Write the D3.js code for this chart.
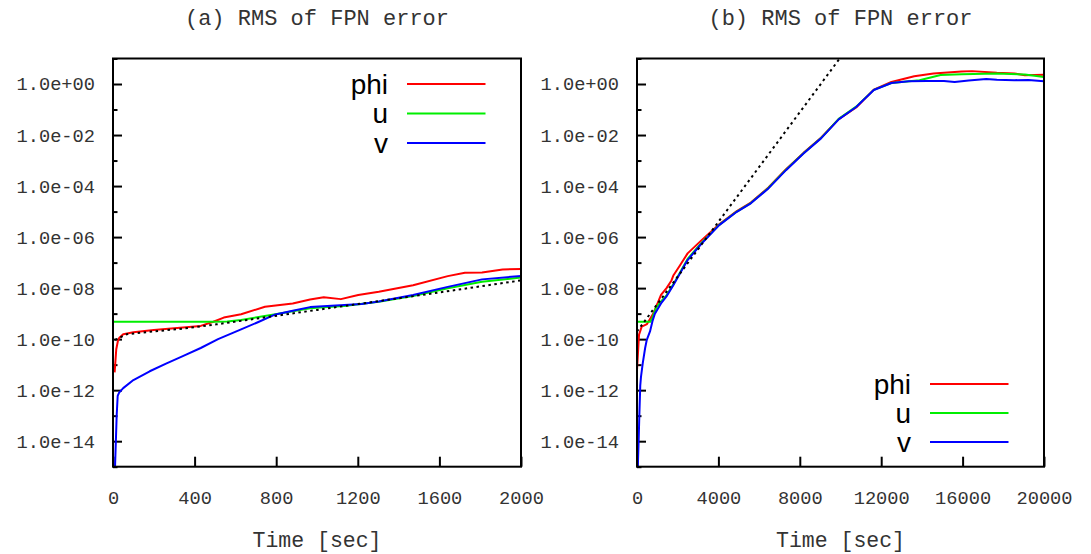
<!DOCTYPE html>
<html><head><meta charset="utf-8">
<script src="https://cdn.jsdelivr.net/npm/d3@7"></script>
<style>body{margin:0;background:#fff}svg{display:block}</style>
</head><body>
<svg id="c" width="1091" height="554"></svg>
<script>
// ---------- data ----------
const seriesNames = ["phi", "u", "v"];
const seriesColors = ["#ff0000", "#00ee00", "#0000ff"];
const yTickValues = [1e0, 1e-2, 1e-4, 1e-6, 1e-8, 1e-10, 1e-12, 1e-14];
const yTickLabels = ["1.0e+00","1.0e-02","1.0e-04","1.0e-06","1.0e-08","1.0e-10","1.0e-12","1.0e-14"];
const yMinorValues = [1e1, 1e-1, 1e-3, 1e-5, 1e-7, 1e-9, 1e-11, 1e-13, 1e-15];
const xTicksA = [0, 400, 800, 1200, 1600, 2000];
const xTicksB = [0, 4000, 8000, 12000, 16000, 20000];
const titles = ["(a) RMS of FPN error", "(b) RMS of FPN error"];
const xLabel = "Time [sec]";

// panel (a): [time, value]
const aPhi = [[8,5e-12],[16,4e-11],[24,8.5e-11],[30,1.1e-10],[50,1.55e-10],[100,1.86e-10],[200,2.3e-10],[300,2.7e-10],[430,3.3e-10],[492,4.8e-10],[543,7.0e-10],[628,9.5e-10],[745,1.86e-9],[881,2.5e-9],[966,3.6e-9],[1033,4.4e-9],[1117,3.7e-9],[1202,5.4e-9],[1303,7.2e-9],[1471,1.3e-8],[1641,2.95e-8],[1725,4.0e-8],[1809,4.1e-8],[1910,5.4e-8],[2000,5.6e-8]];
const aU = [[0,4.8e-10],[490,4.8e-10],[560,4.9e-10],[628,5.6e-10],[796,9.5e-10],[966,1.62e-9],[1050,1.8e-9],[1134,2.0e-9],[1303,2.95e-9],[1471,4.9e-9],[1641,9.8e-9],[1809,1.78e-8],[2000,2.6e-8]];
const aV = [[10,1e-15],[14,1e-14],[18,1e-13],[23,6e-13],[30,8e-13],[50,1.2e-12],[100,2.5e-12],[180,5.5e-12],[260,1.1e-11],[345,2.2e-11],[430,4.5e-11],[515,1.0e-10],[628,2.4e-10],[710,4.6e-10],[796,9.3e-10],[881,1.3e-9],[966,1.8e-9],[1050,2.0e-9],[1134,2.2e-9],[1219,2.4e-9],[1303,3.0e-9],[1387,4.0e-9],[1471,5.4e-9],[1641,1.12e-8],[1809,2.2e-8],[2000,3.0e-8]];
const aFit = [[10,9.3e-11],[67,1.55e-10],[181,1.95e-10],[345,2.6e-10],[508,3.8e-10],[1000,1.4e-9],[1500,5.2e-9],[2000,2.0e-8]];

// panel (b)
const bPhi = [[0,6e-12],[100,1.5e-10],[231,3.1e-10],[491,3.9e-10],[800,1.0e-9],[968,2.1e-9],[1180,5.4e-9],[1450,1.0e-8],[1695,2.0e-8],[1794,3.2e-8],[2100,7.5e-8],[2487,2.3e-7],[3176,7.6e-7],[4040,3.2e-6],[4904,1.05e-5],[5592,2.25e-5],[6457,8.8e-5],[7322,4.6e-4],[8182,2.0e-3],[9042,7.8e-3],[9912,4.2e-2],[10771,1.2e-1],[11636,6.0e-1],[12501,1.2],[13623,2.0],[14570,2.6],[15950,3.1],[16471,3.2],[17681,2.75],[18542,2.6],[19060,2.2],[20000,2.3]];
const bU = [[0,4.8e-10],[660,4.8e-10],[760,7e-10],[919,1.6e-9],[1180,3.0e-9],[1440,5.0e-9],[1784,1.4e-8],[2487,1.4e-7],[3176,6.0e-7],[4040,3.0e-6],[4904,1.0e-5],[5592,2.15e-5],[6457,8.4e-5],[7322,4.4e-4],[8182,1.95e-3],[9042,7.6e-3],[9912,4.3e-2],[10771,1.3e-1],[11636,5.9e-1],[12501,1.1],[13882,1.41],[14919,2.24],[15950,2.4],[17681,2.57],[19060,2.34],[20000,1.9]];
const bV = [[40,1e-15],[80,1e-14],[113,9e-14],[160,1.5e-12],[197,3.4e-12],[280,1.1e-11],[400,4.5e-11],[477,9.1e-11],[639,2.0e-10],[760,5.0e-10],[880,1.0e-9],[1180,2.5e-9],[1440,4.6e-9],[1784,1.3e-8],[2487,1.26e-7],[3176,5.6e-7],[4040,2.95e-6],[4904,9.8e-6],[5592,2.1e-5],[6457,8.1e-5],[7322,4.2e-4],[8182,1.9e-3],[9042,7.4e-3],[9912,4.1e-2],[10771,1.26e-1],[11636,5.8e-1],[12501,1.1],[13361,1.29],[14226,1.32],[15086,1.32],[15607,1.2],[16300,1.38],[17160,1.58],[17681,1.48],[18542,1.41],[19234,1.45],[20000,1.29]];
const bFit = [[0,2.0e-10],[10000,1.1e1]];

// ---------- layout ----------
const svg = d3.select("#c");
const panels = [
  {x0:113, x1:521, xmax:2000, ticks:xTicksA, series:[aPhi,aU,aV], fit:aFit, title:titles[0], legendY:[84,113.5,143]},
  {x0:637, x1:1044, xmax:20000, ticks:xTicksB, series:[bPhi,bU,bV], fit:bFit, title:titles[1], legendY:[384,413,442]}
];
const yTop = 58.5, yBot = 466.7;
const mono = "'Liberation Mono', 'DejaVu Sans Mono', monospace";

panels.forEach((p, i) => {
  const x = d3.scaleLinear().domain([0, p.xmax]).range([p.x0, p.x1]);
  const y = d3.scaleLog().domain([1e-15, 1e1]).range([yBot, yTop]);
  const g = svg.append("g");
  const cid = "clip" + i;
  g.append("clipPath").attr("id", cid).append("rect")
    .attr("x", p.x0).attr("y", yTop).attr("width", p.x1 - p.x0).attr("height", yBot - yTop);

  // y axis ticks (inside)
  const yAxis = d3.axisLeft(y).tickValues(yTickValues).tickSize(-9)
    .tickFormat((d, k) => yTickLabels[k]).tickPadding(18);
  const ya = g.append("g").attr("transform", `translate(${p.x0},0)`).call(yAxis);
  ya.select(".domain").remove();
  ya.selectAll(".tick line").attr("stroke", "#000").attr("stroke-width", 2);
  ya.selectAll(".tick text").attr("font-family", mono).attr("font-size", 18.7).attr("fill", "#333");
  const yMinor = d3.axisLeft(y).tickValues(yMinorValues).tickSize(-4.5).tickFormat("");
  const ym = g.append("g").attr("transform", `translate(${p.x0},0)`).call(yMinor);
  ym.select(".domain").remove();
  ym.selectAll(".tick line").attr("stroke", "#000").attr("stroke-width", 2);

  // x axis ticks (inside)
  const xAxis = d3.axisBottom(x).tickValues(p.ticks).tickSize(-10).tickFormat(d3.format("d")).tickPadding(24);
  const xa = g.append("g").attr("transform", `translate(0,${yBot})`).call(xAxis);
  xa.select(".domain").remove();
  xa.selectAll(".tick line").attr("stroke", "#000").attr("stroke-width", 2);
  xa.selectAll(".tick text").attr("font-family", mono).attr("font-size", 18.7).attr("fill", "#333");

  // lines
  const line = d3.line().x(d => x(d[0])).y(d => y(d[1]));
  const lg = g.append("g").attr("clip-path", `url(#${cid})`);
  p.series.forEach((s, k) => {
    lg.append("path").datum(s).attr("d", line).attr("fill", "none")
      .attr("stroke", seriesColors[k]).attr("stroke-width", 2).attr("stroke-linejoin", "round");
  });
  lg.append("path").datum(p.fit).attr("d", line).attr("fill", "none")
    .attr("stroke", "#000").attr("stroke-width", 2).attr("stroke-dasharray", "2.5,3.5");

  // frame
  g.append("rect").attr("x", p.x0).attr("y", yTop).attr("width", p.x1 - p.x0).attr("height", yBot - yTop)
    .attr("fill", "none").attr("stroke", "#000").attr("stroke-width", 2);

  // legend
  seriesNames.forEach((n, k) => {
    const ly = p.legendY[k];
    g.append("text").attr("x", p.x1 - 133).attr("y", ly).attr("dy", "0.35em")
      .attr("text-anchor", "end").attr("font-family", "'Liberation Sans', Arial, sans-serif")
      .attr("font-size", 28).attr("fill", "#000").text(n);
    g.append("line").attr("x1", p.x1 - 114).attr("x2", p.x1 - 35.5).attr("y1", ly).attr("y2", ly)
      .attr("stroke", seriesColors[k]).attr("stroke-width", 2);
  });

  // title and x label
  const cx = (p.x0 + p.x1) / 2;
  g.append("text").attr("x", cx).attr("y", 17).attr("dy", "0.35em").attr("text-anchor", "middle")
    .attr("font-family", mono).attr("font-size", 22).attr("fill", "#333").text(p.title);
  g.append("text").attr("x", cx).attr("y", 539).attr("dy", "0.35em").attr("text-anchor", "middle")
    .attr("font-family", mono).attr("font-size", 21.5).attr("fill", "#333").text(xLabel);
});
</script>
</body></html>
